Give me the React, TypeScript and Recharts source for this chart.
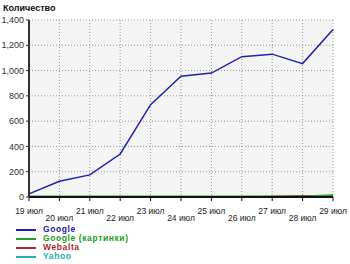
import { CartesianGrid, Line, LineChart, XAxis, YAxis } from 'recharts';

const days = ['19 июл', '20 июл', '21 июл', '22 июл', '23 июл', '24 июл', '25 июл', '26 июл', '27 июл', '28 июл', '29 июл'];
const google = [25, 125, 175, 340, 730, 955, 980, 1110, 1130, 1055, 1325];
const googleImages = [3, 3, 3, 3, 3, 3, 3, 3, 3, 4, 14];
const webalta = [0, 0, 0, 0, 0, 0, 0, 0, 2, 8, 6];
const yahoo = [0, 0, 0, 0, 0, 0, 0, 0, 0, 0, 1];
const yTicks = [0, 200, 400, 600, 800, 1000, 1200, 1400];

const series = [
  { key: 'google', name: 'Google', color: '#2222a8', values: google },
  { key: 'googleImages', name: 'Google (картинки)', color: '#22a022', values: googleImages },
  { key: 'webalta', name: 'Webalta', color: '#b02828', values: webalta },
  { key: 'yahoo', name: 'Yahoo', color: '#22b0b0', values: yahoo },
];

const data = days.map((day, i) => {
  const row: Record<string, string | number> = { day };
  series.forEach((s) => (row[s.key] = s.values[i]));
  return row;
});

const font = '"Liberation Sans", Arial, sans-serif';

function DayTick({ x, y, payload, index }: any) {
  const dy = index % 2 === 0 ? 11 : 18;
  return (
    <text x={x} y={y + dy} textAnchor="middle" fontSize={8.5} fontFamily={font} fill="#222">
      {payload.value}
    </text>
  );
}

export default function App() {
  return (
    <div style={{ position: 'fixed', left: 0, top: 0, width: 350, height: 264, background: '#fff' }}>
      <div style={{ position: 'absolute', left: 3, top: 3, fontFamily: font, fontWeight: 'bold', fontSize: 9, color: '#111' }}>
        Количество
      </div>
      <LineChart width={350} height={264} data={data} margin={{ top: 20, right: 17, bottom: 37, left: 0 }}>
        <CartesianGrid fill="#f4f4f4" stroke="#999" strokeDasharray="1 2" />
        <XAxis
          dataKey="day"
          interval={0}
          height={30}
          tick={<DayTick />}
          tickSize={4}
          axisLine={{ stroke: '#111', strokeWidth: 2 }}
          tickLine={{ stroke: '#111' }}
        />
        <YAxis
          width={29}
          domain={[0, 1400]}
          ticks={yTicks}
          interval={0}
          tickSize={3}
          tickFormatter={(v: number) => v.toLocaleString('en-US')}
          tick={{ fontSize: 9, fontFamily: font, fill: '#333' }}
          axisLine={{ stroke: '#333', strokeWidth: 2 }}
          tickLine={{ stroke: '#333' }}
        />
        {series
          .slice()
          .reverse()
          .map((s) => (
            <Line
              key={s.key}
              dataKey={s.key}
              stroke={s.color}
              strokeWidth={s.key === 'google' ? 1.5 : 2}
              dot={false}
              type="linear"
              isAnimationActive={false}
            />
          ))}
      </LineChart>
      <div style={{ position: 'absolute', left: 16, top: 225 }}>
        {series.map((s) => (
          <div key={s.key} style={{ display: 'flex', alignItems: 'center', height: 9 }}>
            <div style={{ width: 20, height: 2, background: s.color, marginRight: 7 }} />
            <span style={{ fontFamily: font, fontWeight: 'bold', fontSize: 8.5, letterSpacing: 0.6, color: s.color, lineHeight: '9px' }}>
              {s.name}
            </span>
          </div>
        ))}
      </div>
    </div>
  );
}
